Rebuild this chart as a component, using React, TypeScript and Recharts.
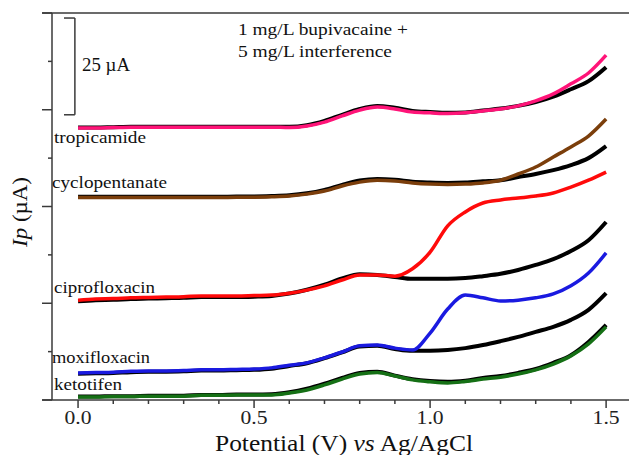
import React from 'react'
import { LineChart, Line, XAxis, YAxis, ReferenceLine } from 'recharts'

// potential (V vs Ag/AgCl)
const potential = [
  0, 0.05, 0.1, 0.15, 0.2, 0.25, 0.3, 0.35, 0.4, 0.45, 0.5, 0.55, 0.6, 0.65, 0.7, 0.75,
  0.8, 0.85, 0.9, 0.95, 1.0, 1.05, 1.1, 1.15, 1.2, 1.25, 1.3, 1.35, 1.4, 1.45, 1.5,
]

// offset currents (µA), interferent curve and its black blank (bupivacaine only)
const tropicamide = [70.3, 70.3, 70.4, 70.5, 70.5, 70.5, 70.5, 70.5, 70.5, 70.5, 70.5, 70.5, 70.4, 70.8, 71.8, 73.4, 74.9, 75.7, 75.2, 74.4, 74.2, 74.0, 74.2, 74.7, 75.2, 76.0, 77.3, 79.1, 81.7, 84.5, 89.1]
const tropicamideBlank = [70.4, 70.4, 70.5, 70.6, 70.6, 70.6, 70.6, 70.6, 70.6, 70.6, 70.6, 70.6, 70.6, 71.0, 72.1, 73.7, 75.2, 76.0, 75.5, 74.7, 74.4, 74.2, 74.3, 74.8, 75.3, 76.0, 77.0, 78.4, 80.3, 82.4, 86.0]

const cyclopentanate = [52.3, 52.3, 52.3, 52.3, 52.3, 52.3, 52.3, 52.3, 52.3, 52.4, 52.4, 52.5, 52.7, 53.2, 54.0, 55.3, 56.3, 56.8, 56.6, 56.1, 55.8, 55.7, 55.8, 56.1, 56.8, 58.4, 60.2, 62.8, 65.4, 68.2, 72.6]
const cyclopentanateBlank = [52.5, 52.5, 52.5, 52.5, 52.5, 52.5, 52.5, 52.5, 52.5, 52.6, 52.6, 52.7, 52.9, 53.4, 54.3, 55.6, 56.7, 57.1, 56.9, 56.4, 56.2, 56.1, 56.2, 56.5, 56.8, 57.6, 58.4, 59.4, 60.7, 62.5, 65.6]

const ciprofloxacin = [25.8, 26.1, 26.2, 26.4, 26.5, 26.6, 26.7, 26.9, 26.9, 26.9, 27.0, 27.1, 27.6, 28.4, 29.5, 31.0, 32.3, 32.3, 32.0, 33.9, 38.2, 45.0, 48.6, 50.9, 51.7, 52.2, 52.7, 53.5, 55.0, 56.8, 58.9]
const ciprofloxacinBlank = [25.5, 25.8, 25.9, 26.1, 26.2, 26.3, 26.4, 26.6, 26.6, 26.6, 26.7, 26.9, 27.5, 28.5, 29.8, 31.4, 32.5, 32.3, 31.8, 31.3, 31.3, 31.3, 31.5, 32.0, 32.6, 33.6, 34.9, 36.4, 38.5, 41.3, 46.0]

const moxifloxacin = [7.0, 7.1, 7.2, 7.4, 7.5, 7.5, 7.6, 7.8, 7.8, 7.9, 8.0, 8.3, 9.0, 9.6, 10.9, 12.4, 14.0, 14.2, 13.4, 12.9, 17.3, 23.5, 27.1, 26.4, 25.6, 25.8, 26.4, 27.4, 29.5, 32.8, 38.0]
const moxifloxacinBlank = [6.8, 6.9, 7.0, 7.2, 7.3, 7.3, 7.4, 7.6, 7.6, 7.7, 7.8, 8.1, 8.8, 9.5, 10.8, 12.3, 13.8, 14.0, 13.2, 12.7, 12.7, 12.9, 13.4, 14.2, 15.2, 16.3, 17.6, 18.9, 20.7, 23.3, 27.6]

const ketotifen = [0.8, 0.8, 0.9, 0.9, 1.0, 1.0, 1.0, 1.2, 1.2, 1.3, 1.3, 1.3, 1.8, 2.6, 3.9, 5.4, 6.7, 7.1, 6.2, 5.2, 4.7, 4.4, 4.8, 5.4, 5.9, 6.7, 7.8, 9.3, 11.4, 14.5, 18.9]
const ketotifenBlank = [0.9, 0.9, 1.0, 1.0, 1.1, 1.1, 1.1, 1.3, 1.3, 1.4, 1.4, 1.5, 2.0, 2.9, 4.2, 5.7, 7.0, 7.3, 6.3, 5.4, 4.9, 4.7, 5.0, 5.7, 6.2, 7.0, 8.0, 9.6, 11.6, 15.0, 19.4]

const xTicks = [0, 0.1, 0.2, 0.3, 0.4, 0.5, 0.6, 0.7, 0.8, 0.9, 1.0, 1.1, 1.2, 1.3, 1.4, 1.5]
const yTicks = [0, 12.5, 25, 37.5, 50, 62.5, 75, 87.5, 100]

const series = [
  { name: 'tropicamide', values: tropicamide, blank: tropicamideBlank, color: '#ff1478' },
  { name: 'cyclopentanate', values: cyclopentanate, blank: cyclopentanateBlank, color: '#7b3e0b' },
  { name: 'ciprofloxacin', values: ciprofloxacin, blank: ciprofloxacinBlank, color: '#ff0a0a' },
  { name: 'moxifloxacin', values: moxifloxacin, blank: moxifloxacinBlank, color: '#1a1ae0' },
  { name: 'ketotifen', values: ketotifen, blank: ketotifenBlank, color: '#157015' },
]

const data = potential.map((p, i) => {
  const row: any = { p }
  series.forEach(s => {
    row[s.name] = s.values[i]
    row[s.name + 'Blank'] = s.blank[i]
  })
  return row
})

const AXIS = '#3a3a3a'
const FONT = "'Times New Roman', Times, 'Liberation Serif', serif"

const XTick = ({ x, y, payload }: any) => {
  const v = payload.value
  const major = Math.abs(v * 2 - Math.round(v * 2)) < 1e-6
  return (
    <g>
      <line x1={x} x2={x} y1={y} y2={y + (major ? 8 : 4)} stroke={AXIS} strokeWidth={1.5} />
      {major && (
        <text x={x} y={y + 24} textAnchor="middle" style={{ fontFamily: FONT }} fontSize={19} fill="#222"
          textLength={27} lengthAdjust="spacingAndGlyphs">
          {v.toFixed(1)}
        </text>
      )}
    </g>
  )
}

const YTick = ({ x, y, payload }: any) => {
  const major = payload.value % 25 === 0
  return <line x1={x - (major ? 10 : 4)} x2={x} y1={y} y2={y} stroke={AXIS} strokeWidth={1.5} />
}

// label placement next to each trace
const traceLabels = [
  { text: 'tropicamide', x: 54, y: 143, w: 92 },
  { text: 'cyclopentanate', x: 52, y: 188, w: 115 },
  { text: 'ciprofloxacin', x: 54, y: 293, w: 101 },
  { text: 'moxifloxacin', x: 52, y: 363, w: 98 },
  { text: 'ketotifen', x: 54, y: 390, w: 68 },
]

export default function App() {
  return (
    <div style={{ position: 'absolute', left: 0, top: 0, width: 629, height: 455, background: '#fff', fontFamily: FONT }}>
      <LineChart width={629} height={455} data={data} margin={{ top: 13, right: 0, bottom: 0, left: 0 }}>
        <XAxis dataKey="p" type="number" domain={[-0.074, 1.565]} allowDataOverflow ticks={xTicks}
          interval={0} tickSize={0} tickMargin={0} tick={<XTick />} axisLine={false} height={55} />
        <YAxis type="number" domain={[0, 100]} allowDataOverflow ticks={yTicks} interval={0}
          tickSize={0} tickMargin={0} tick={<YTick />} width={52}
          axisLine={{ stroke: AXIS, strokeWidth: 1.5 }} />
        <ReferenceLine segment={[{ x: -0.102, y: 0 }, { x: 1.565, y: 0 }]} ifOverflow="visible" stroke={AXIS} strokeWidth={1.5} />
        <ReferenceLine segment={[{ x: -0.102, y: 100 }, { x: 1.565, y: 100 }]} ifOverflow="visible" stroke={AXIS} strokeWidth={1.5} />
        {/* 25 µA scale bar */}
        <ReferenceLine segment={[{ x: -0.009, y: 73.7 }, { x: -0.009, y: 98.7 }]} ifOverflow="visible" stroke={AXIS} strokeWidth={1.5} />
        <ReferenceLine segment={[{ x: -0.04, y: 98.7 }, { x: -0.009, y: 98.7 }]} ifOverflow="visible" stroke={AXIS} strokeWidth={1.5} />
        <ReferenceLine segment={[{ x: -0.04, y: 73.7 }, { x: -0.009, y: 73.7 }]} ifOverflow="visible" stroke={AXIS} strokeWidth={1.5} />
        {series.map(s => (
          <Line key={s.name + 'Blank'} dataKey={s.name + 'Blank'} type="monotone" stroke="#000"
            strokeWidth={4} dot={false} isAnimationActive={false} />
        ))}
        {series.map(s => (
          <Line key={s.name} dataKey={s.name} type="monotone" stroke={s.color}
            strokeWidth={3.5} dot={false} isAnimationActive={false} />
        ))}
      </LineChart>
      <svg width={629} height={455} style={{ position: 'absolute', left: 0, top: 0, pointerEvents: 'none', fontFamily: FONT }}
        fill="#111">
        {traceLabels.map(l => (
          <text key={l.text} x={l.x} y={l.y} fontSize={17} textLength={l.w} lengthAdjust="spacingAndGlyphs">
            {l.text}
          </text>
        ))}
        <text x={82} y={71} fontSize={19} textLength={48} lengthAdjust="spacingAndGlyphs">25 µA</text>
        <text x={238} y={35} fontSize={17} textLength={170} lengthAdjust="spacingAndGlyphs">1 mg/L bupivacaine +</text>
        <text x={238} y={57} fontSize={17} textLength={154} lengthAdjust="spacingAndGlyphs">5 mg/L interference</text>
        <text x={215} y={451} fontSize={23} textLength={258} lengthAdjust="spacingAndGlyphs">
          Potential (V) <tspan fontStyle="italic">vs</tspan> Ag/AgCl
        </text>
        <text transform="translate(27,212) rotate(-90)" textAnchor="middle" fontSize={21}
          textLength={70} lengthAdjust="spacingAndGlyphs">
          <tspan fontStyle="italic">Ip</tspan> (µA)
        </text>
      </svg>
    </div>
  )
}
